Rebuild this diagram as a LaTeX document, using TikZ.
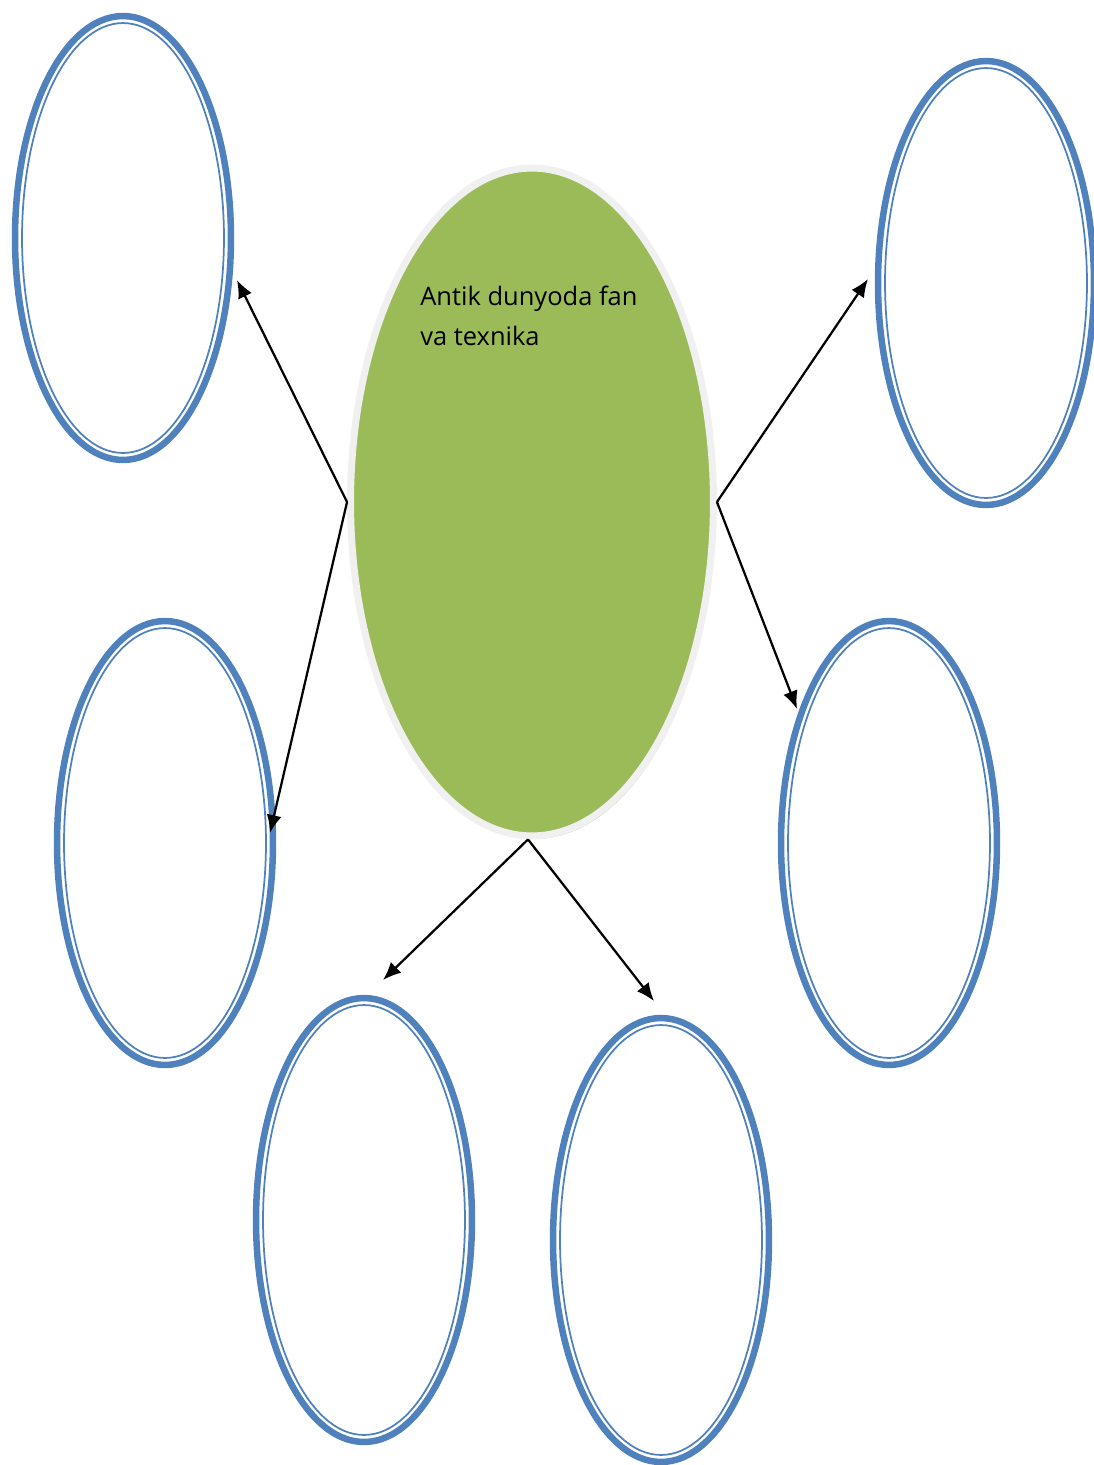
\documentclass[tikz,border=0pt]{standalone}
\usepackage{fontspec}
\setmainfont{Open Sans}
\usepackage{tikz}
\usetikzlibrary{arrows.meta,shapes.geometric,shadows}
\definecolor{ovalblue}{HTML}{4F81BD}
\definecolor{ovalgreen}{HTML}{9BBB59}
\definecolor{rimgrey}{HTML}{F0F0F0}
\definecolor{shadegreen}{HTML}{A9B591}
\tikzset{%
  >={Latex[width=3mm,length=3.6mm]},
       oval/.style = {ellipse, draw=ovalblue, line width=0.13cm,
                      minimum width=4.32cm, minimum height=8.88cm, inner sep=0pt},
  inneroval/.style = {ellipse, draw=ovalblue, line width=0.035cm,
                      minimum width=4.04cm, minimum height=8.6cm, inner sep=0pt},
       core/.style = {ellipse, draw=rimgrey, fill=ovalgreen, line width=0.14cm,
                      minimum width=7.26cm, minimum height=13.36cm, inner sep=0pt,
                      drop shadow={shadow xshift=0.04cm, shadow yshift=-0.06cm,
                                   fill=shadegreen, opacity=1}},
       link/.style = {->, line width=0.045cm, black},
}
\begin{document}
\begin{tikzpicture}[x=0.02cm, y=-0.02cm]
  \useasboundingbox (0,0) rectangle (1094,1465);

  \node (centre) [core] at (532,502) {};
  \node (title) [anchor=base west, align=left, inner sep=0pt,
                 font=\fontsize{14.5}{22.7}\selectfont] at (420,345)
        {Antik dunyoda fan\\va texnika};

  % blue ovals with a thin inner line
  \foreach \name/\pos in {tl/{(123,238)}, tr/{(986,283)}, ml/{(165,843)},
                          mr/{(889,843)}, bl/{(364,1220)}, br/{(661,1240)}} {
    \node (\name) [oval] at \pos {};
    \node (\name in) [inneroval] at (\name.center) {};
  }

  \coordinate (tltip) at (237,280);
  \coordinate (mltip) at (270,833);
  \coordinate (trtip) at (868,279);
  \coordinate (mrtip) at (797,709);
  \coordinate (bltip) at (383,980);
  \coordinate (brtip) at (654,1001);

  \draw[link] (centre.west)  -- (tltip);
  \draw[link] (centre.west)  -- (mltip);
  \draw[link] (centre.east)  -- (trtip);
  \draw[link] (centre.east)  -- (mrtip);
  \draw[link] ([xshift=-0.08cm]centre.south) -- (bltip);
  \draw[link] ([xshift=-0.08cm]centre.south) -- (brtip);
\end{tikzpicture}
\end{document}
